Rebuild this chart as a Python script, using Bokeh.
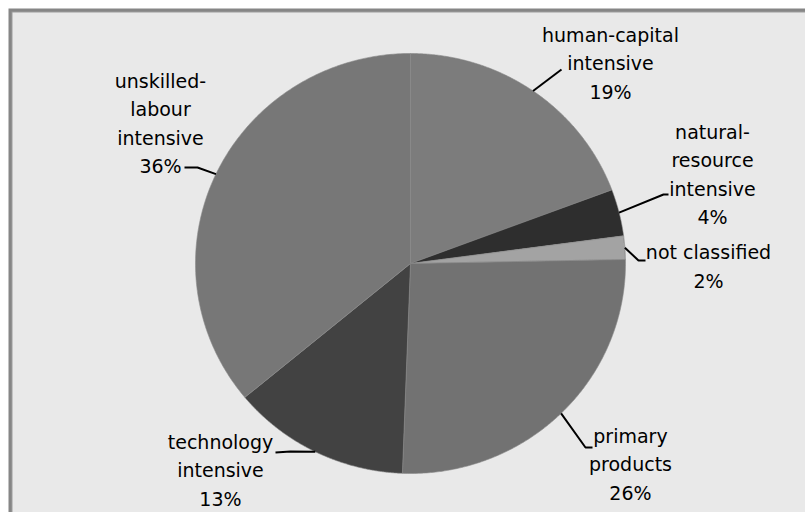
import numpy as np
from bokeh.plotting import figure
from bokeh.models import Range1d, ColumnDataSource
from bokeh.core.properties import value
from bokeh.embed import file_html
from bokeh.resources import INLINE

# ---- data ----
categories = ["human-capital\nintensive", "natural-\nresource\nintensive", "not classified",
              "primary\nproducts", "technology\nintensive", "unskilled-\nlabour\nintensive"]
shares = [19.3, 3.6, 1.8, 25.9, 13.4, 36.0]
colors = ["#7c7c7c", "#2e2e2e", "#a3a3a3", "#727272", "#424242", "#777777"]

# ---- layout (pixel-like coordinates) ----
cx, cy, rx, ry = 410.0, 263.0, 215.0, 210.0
label_x = [610, 712, 708, 630, 220, 160]
label_y = [63, 174, 266, 464, 470, 123]
elbow_x = [561, 663, 638, 585, 290, 197]
elbow_y = [69, 194, 260, 447, 451, 167]
end_x = [561, 668, 645, 592, 275, 184]
end_y = [69, 194, 260, 447, 452, 167]

W, H = 805, 512
p = figure(width=W, height=H, x_range=Range1d(0, W), y_range=Range1d(H, 0),
           output_backend="svg", toolbar_location=None,
           x_axis_type=None, y_axis_type=None,
           min_border_left=0, min_border_top=0, min_border_right=0, min_border_bottom=0,
           background_fill_color="white", border_fill_color="white")
p.grid.visible = False
p.outline_line_color = None

# chart panel with grey frame on top/left
p.quad(left=[8], right=[W + 2], top=[8], bottom=[H + 2], fill_color="#868686", line_color=None)
p.quad(left=[11], right=[W + 2], top=[11], bottom=[H + 2], fill_color="#9c9c9c", line_color=None)
p.quad(left=[12], right=[W + 2], top=[12], bottom=[H + 2], fill_color="#e9e9e9", line_color=None)

vals = np.array(shares, dtype=float)
frac = vals / vals.sum()
cum = np.concatenate([[0.0], np.cumsum(frac)])

xs, ys = [], []
for i in range(len(vals)):
    th = np.linspace(cum[i], cum[i + 1], 200) * 2 * np.pi
    xs.append(list(np.concatenate([[cx], cx + rx * np.sin(th), [cx]])))
    ys.append(list(np.concatenate([[cy], cy - ry * np.cos(th), [cy]])))

p.patches(xs, ys, fill_color=colors, line_color="#8a8a8a", line_width=0.6)

# leader lines
lx, ly = [], []
for i in range(len(vals)):
    mid = (cum[i] + cum[i + 1]) / 2 * 2 * np.pi
    sx, sy = cx + rx * np.sin(mid), cy - ry * np.cos(mid)
    lx.append([sx, elbow_x[i], end_x[i]])
    ly.append([sy, elbow_y[i], end_y[i]])
p.multi_line(lx, ly, line_color="black", line_width=2)

labels = [f"{c}\n{int(round(v))}%" for c, v in zip(categories, shares)]
src = ColumnDataSource(dict(x=label_x, y=label_y, t=labels))
p.text("x", "y", text="t", source=src, text_align="center", text_baseline="middle",
       text_font=value("DejaVu Sans"), text_font_size="19px", text_color="black",
       text_line_height=1.28)

open("out.html", "w").write(file_html(p, INLINE))
